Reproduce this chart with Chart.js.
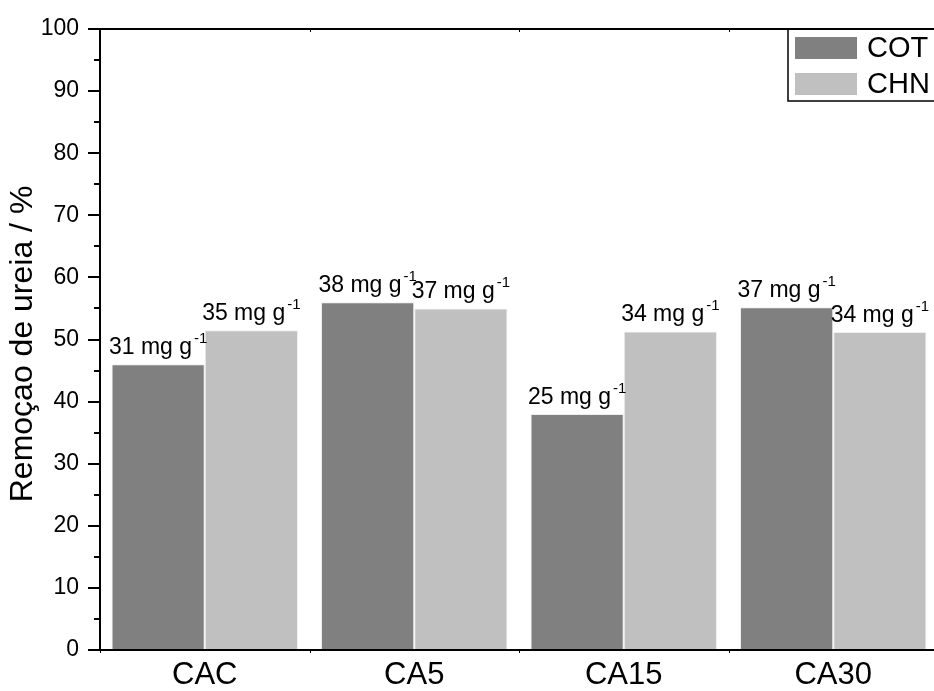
<!DOCTYPE html>
<html lang="pt">
<head>
  <meta charset="UTF-8">
  <title>Remoção de ureia</title>
  <style>
    html, body {
      margin: 0;
      padding: 0;
      background: #ffffff;
      overflow: hidden;
    }
    .wrap {
      width: 942px;
      height: 691px;
    }
  </style>
</head>
<body>
<div class="wrap">
  <canvas id="ureiaChart" width="942" height="691"></canvas>
</div>

<script src="https://cdn.jsdelivr.net/npm/chart.js"></script>
<script>
  // categories and series
  const categories = ['CAC', 'CA5', 'CA15', 'CA30'];
  const seriesNames = ['COT', 'CHN'];
  const cotValues = [46.0, 56.0, 38.0, 55.2];
  const chnValues = [51.5, 55.0, 51.3, 51.2];
  // adsorption capacity labels (mg g-1)
  const cotCapacity = [31, 38, 25, 37];
  const chnCapacity = [35, 37, 34, 34];
  const yTicks = [0, 10, 20, 30, 40, 50, 60, 70, 80, 90, 100];

  const FONT = "'Liberation Sans', Arial, sans-serif";

  // axes frame, tick marks, bar labels and legend
  const decorPlugin = {
    id: 'decor',
    afterDatasetsDraw(chart) {
      const ctx = chart.ctx;
      const area = chart.chartArea;
      const yScale = chart.scales.y;
      ctx.save();
      ctx.strokeStyle = '#000';

      // frame lines
      ctx.lineWidth = 2;
      ctx.beginPath();
      ctx.moveTo(area.left, area.top);
      ctx.lineTo(area.left, area.bottom);
      ctx.lineTo(area.right, area.bottom);
      ctx.moveTo(area.left, area.top);
      ctx.lineTo(area.right, area.top);
      ctx.stroke();

      // y ticks, major outward 12px, minor 6px
      for (let v = 0; v <= 100; v += 5) {
        const py = Math.round(yScale.getPixelForValue(v));
        const len = (v % 10 === 0) ? 12 : 6;
        ctx.beginPath();
        ctx.moveTo(area.left - len, py);
        ctx.lineTo(area.left, py);
        ctx.stroke();
      }

      // small ticks at category boundaries
      ctx.lineWidth = 1;
      const step = (area.right - area.left) / categories.length;
      for (let i = 0; i <= categories.length; i++) {
        const px = Math.round(area.left + i * step) + 0.5;
        ctx.beginPath();
        ctx.moveTo(px, area.bottom);
        ctx.lineTo(px, area.bottom + 3);
        ctx.moveTo(px, area.top);
        ctx.lineTo(px, area.top + 3);
        ctx.stroke();
      }

      // value labels "NN mg g-1"
      const capacities = [cotCapacity, chnCapacity];
      ctx.fillStyle = '#000';
      ctx.textBaseline = 'alphabetic';
      ctx.textAlign = 'left';
      chart.data.datasets.forEach((ds, di) => {
        const meta = chart.getDatasetMeta(di);
        meta.data.forEach((bar, i) => {
          const main = capacities[di][i] + ' mg g';
          const sup = '-1';
          ctx.font = '23px ' + FONT;
          const w1 = ctx.measureText(main).width;
          ctx.font = '15px ' + FONT;
          const w2 = ctx.measureText(sup).width;
          const x0 = bar.x - (w1 + w2 + 2) / 2;
          const base = bar.y - 10;
          ctx.font = '23px ' + FONT;
          ctx.fillText(main, x0, base);
          ctx.font = '15px ' + FONT;
          ctx.fillText(sup, x0 + w1 + 2, base - 11);
        });
      });

      // legend box in the top right corner
      const lx = 788, ly = area.top;
      ctx.lineWidth = 1.5;
      ctx.strokeRect(lx, ly, 160, 72);
      ctx.font = '29px ' + FONT;
      ctx.textBaseline = 'middle';
      chart.data.datasets.forEach((ds, di) => {
        const sy = 37 + di * 36;
        ctx.fillStyle = ds.backgroundColor;
        ctx.fillRect(lx + 7, sy, 62, 22);
        ctx.fillStyle = '#000';
        ctx.fillText(ds.label, 867, sy + 12);
      });
      ctx.restore();
    }
  };

  const ctx = document.getElementById('ureiaChart').getContext('2d');
  const chart = new Chart(ctx, {
    type: 'bar',
    data: {
      labels: categories,
      datasets: [
        {
          label: seriesNames[0],
          data: cotValues,
          backgroundColor: '#808080',
          borderColor: '#eeeeee',
          borderWidth: 1,
          categoryPercentage: 0.89,
          barPercentage: 1.0
        },
        {
          label: seriesNames[1],
          data: chnValues,
          backgroundColor: '#c0c0c0',
          borderColor: '#eeeeee',
          borderWidth: 1,
          categoryPercentage: 0.89,
          barPercentage: 1.0
        }
      ]
    },
    options: {
      responsive: false,
      animation: false,
      layout: {
        padding: { top: 29, right: 4, left: 0, bottom: 0 }
      },
      plugins: {
        legend: { display: false },
        tooltip: { enabled: false }
      },
      scales: {
        x: {
          grid: { display: false, drawTicks: false },
          border: { display: false },
          afterFit(scale) {
            scale.height = 41;
          },
          ticks: {
            color: '#000',
            padding: 7,
            font: { family: FONT, size: 31 }
          }
        },
        y: {
          min: 0,
          max: 100,
          grid: { display: false, drawTicks: false },
          border: { display: false },
          afterBuildTicks(scale) {
            scale.ticks = yTicks.map(v => ({ value: v }));
          },
          afterFit(scale) {
            scale.width = 100;
            scale.paddingTop = 0;
            scale.paddingBottom = 0;
          },
          ticks: {
            color: '#000',
            padding: 21,
            font: { family: FONT, size: 23 }
          },
          title: {
            display: true,
            text: 'Remoçao de ureia / % ',
            color: '#000',
            padding: { top: 4, bottom: 0 },
            font: { family: FONT, size: 32 }
          }
        }
      }
    },
    plugins: [decorPlugin]
  });
</script>
</body>
</html>
